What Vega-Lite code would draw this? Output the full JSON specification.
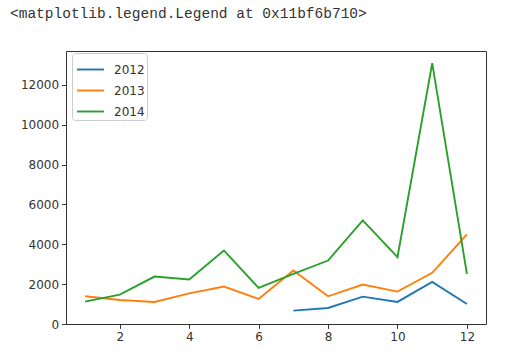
{
  "$schema": "https://vega.github.io/schema/vega-lite/v6.json",
  "width": 420,
  "height": 273,
  "autosize": {"type": "none"},
  "padding": {"left": 66, "top": 51, "right": 35, "bottom": 39},
  "title": {
    "text": "<matplotlib.legend.Legend at 0x11bf6b710>",
    "anchor": "start",
    "frame": "group",
    "dx": -56,
    "offset": 19,
    "baseline": "alphabetic",
    "font": "Liberation Mono",
    "fontSize": 14.5,
    "fontWeight": "normal",
    "color": "#333"
  },
  "data": {
    "values": [
      {"month": 7, "year": "2012", "value": 669},
      {"month": 8, "year": "2012", "value": 805},
      {"month": 9, "year": "2012", "value": 1374},
      {"month": 10, "year": "2012", "value": 1107},
      {"month": 11, "year": "2012", "value": 2114},
      {"month": 12, "year": "2012", "value": 1007},
      {"month": 1, "year": "2013", "value": 1390},
      {"month": 2, "year": "2013", "value": 1208},
      {"month": 3, "year": "2013", "value": 1107},
      {"month": 4, "year": "2013", "value": 1540},
      {"month": 5, "year": "2013", "value": 1877},
      {"month": 6, "year": "2013", "value": 1258},
      {"month": 7, "year": "2013", "value": 2683},
      {"month": 8, "year": "2013", "value": 1390},
      {"month": 9, "year": "2013", "value": 1978},
      {"month": 10, "year": "2013", "value": 1626},
      {"month": 11, "year": "2013", "value": 2567},
      {"month": 12, "year": "2013", "value": 4495},
      {"month": 1, "year": "2014", "value": 1122},
      {"month": 2, "year": "2014", "value": 1475},
      {"month": 3, "year": "2014", "value": 2380},
      {"month": 4, "year": "2014", "value": 2230},
      {"month": 5, "year": "2014", "value": 3690},
      {"month": 6, "year": "2014", "value": 1810},
      {"month": 7, "year": "2014", "value": 2515},
      {"month": 8, "year": "2014", "value": 3186},
      {"month": 9, "year": "2014", "value": 5200},
      {"month": 10, "year": "2014", "value": 3355},
      {"month": 11, "year": "2014", "value": 13087},
      {"month": 12, "year": "2014", "value": 2517}
    ]
  },
  "mark": {"type": "line", "strokeWidth": 1.9},
  "encoding": {
    "x": {
      "field": "month",
      "type": "quantitative",
      "scale": {"domain": [0.45, 12.55], "nice": false, "zero": false},
      "axis": {"values": [2, 4, 6, 8, 10, 12], "title": null, "format": "d"}
    },
    "y": {
      "field": "value",
      "type": "quantitative",
      "scale": {"domain": [0, 13700], "nice": false},
      "axis": {"values": [0, 2000, 4000, 6000, 8000, 10000, 12000], "title": null, "format": "d"}
    },
    "color": {
      "field": "year",
      "type": "nominal",
      "scale": {"domain": ["2012", "2013", "2014"], "range": ["#1f77b4", "#ff7f0e", "#2ca02c"]},
      "legend": {
        "title": null,
        "orient": "none",
        "legendX": 6,
        "legendY": 2,
        "strokeColor": "#cccccc",
        "fillColor": "rgba(255,255,255,0.8)",
        "cornerRadius": 3,
        "padding": 2,
        "rowPadding": -7,
        "symbolType": "stroke",
        "symbolSize": 729,
        "symbolOffset": 2,
        "symbolStrokeWidth": 1.9,
        "labelFont": "DejaVu Sans",
        "labelFontSize": 12,
        "labelColor": "#333",
        "labelOffset": 9
      }
    }
  },
  "config": {
    "view": {"stroke": "#333", "strokeWidth": 1},
    "axis": {
      "domain": false,
      "grid": false,
      "tickColor": "#333",
      "tickSize": 4.4,
      "labelFont": "DejaVu Sans",
      "labelFontSize": 12,
      "labelColor": "#333",
      "labelPadding": 3
    }
  }
}
